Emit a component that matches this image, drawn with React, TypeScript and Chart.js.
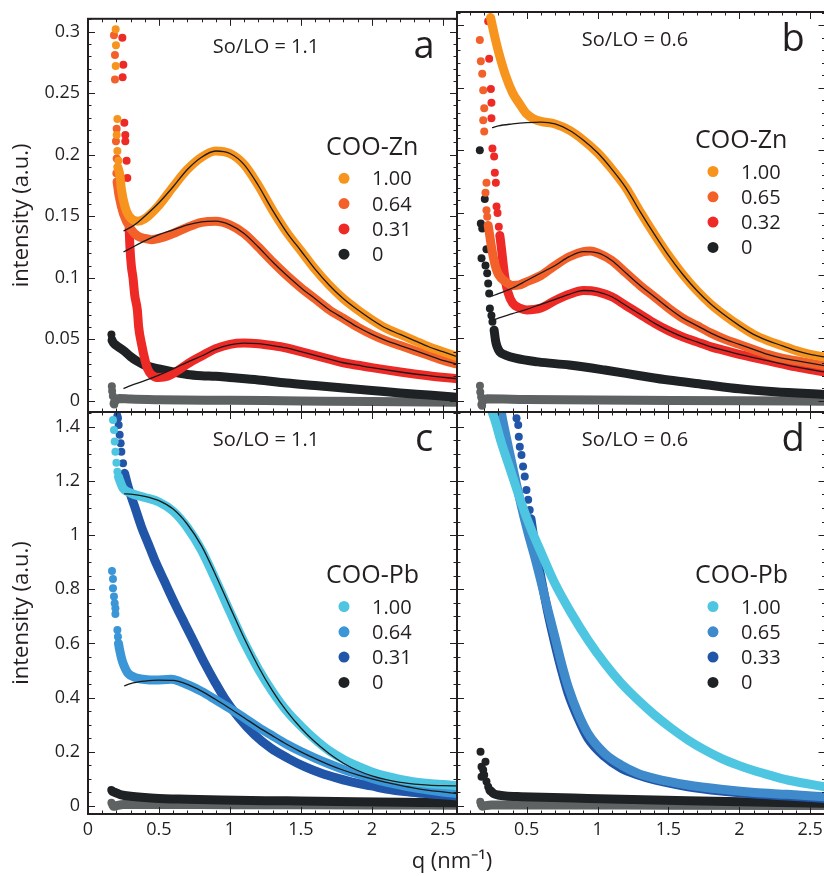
import React, { useEffect, useRef } from "react";
import { Chart, registerables } from "chart.js";

Chart.register(...registerables);

type Pt = [number, number];

// ---------------- tick values & labels ----------------
const X_TICKS = [0, 0.5, 1, 1.5, 2, 2.5];
const X_TICK_LABELS = ["0", "0.5", "1", "1.5", "2", "2.5"];
const X_TICKS_D = [0.5, 1, 1.5, 2, 2.5];
const X_TICK_LABELS_D = ["0.5", "1", "1.5", "2", "2.5"];
const Y_TICKS_ZN = [0, 0.05, 0.1, 0.15, 0.2, 0.25, 0.3];
const Y_TICK_LABELS_ZN = ["0", "0.05", "0.1", "0.15", "0.2", "0.25", "0.3"];
const Y_TICKS_PB = [0, 0.2, 0.4, 0.6, 0.8, 1, 1.2, 1.4];
const Y_TICK_LABELS_PB = ["0", "0.2", "0.4", "0.6", "0.8", "1", "1.2", "1.4"];

const LEGEND_A = ["1.00", "0.64", "0.31", "0"];
const LEGEND_B = ["1.00", "0.65", "0.32", "0"];
const LEGEND_C = ["1.00", "0.64", "0.31", "0"];
const LEGEND_D = ["1.00", "0.65", "0.33", "0"];

// ---------------- panel a : COO-Zn, So/LO = 1.1 ----------------
const A_100_DOTS: Pt[] = [[0.195, 0.302], [0.197, 0.289], [0.195, 0.272], [0.207, 0.229], [0.202, 0.216], [0.207, 0.203], [0.214, 0.195]];
const A_100_BAND: Pt[] = [[0.21, 0.19], [0.225, 0.183], [0.235, 0.172], [0.26, 0.158], [0.29, 0.15], [0.35, 0.146], [0.4, 0.148], [0.5, 0.159], [0.6, 0.174], [0.7, 0.188], [0.8, 0.198], [0.9, 0.203], [1.0, 0.201], [1.1, 0.192], [1.2, 0.175], [1.3, 0.155], [1.4, 0.137], [1.5, 0.122], [1.6, 0.107], [1.7, 0.094], [1.8, 0.083], [1.9, 0.074], [2.0, 0.066], [2.1, 0.059], [2.2, 0.054], [2.3, 0.049], [2.4, 0.044], [2.5, 0.04], [2.6, 0.036]];
const A_100_FIT: Pt[] = [[0.25, 0.138], [0.3, 0.141], [0.35, 0.145], [0.4, 0.15], [0.5, 0.161], [0.6, 0.174], [0.7, 0.188], [0.8, 0.198], [0.9, 0.203], [1.0, 0.201], [1.1, 0.192], [1.2, 0.175], [1.3, 0.155], [1.4, 0.137], [1.5, 0.122], [1.6, 0.107], [1.7, 0.094], [1.8, 0.083], [1.9, 0.074], [2.0, 0.066], [2.1, 0.059], [2.2, 0.054], [2.3, 0.049], [2.4, 0.044], [2.5, 0.04], [2.6, 0.036]];

const A_064_DOTS: Pt[] = [[0.183, 0.297], [0.19, 0.281], [0.19, 0.261], [0.202, 0.221], [0.197, 0.211], [0.202, 0.197], [0.2, 0.185]];
const A_064_BAND: Pt[] = [[0.205, 0.178], [0.22, 0.166], [0.25, 0.152], [0.3, 0.14], [0.35, 0.134], [0.4, 0.132], [0.45, 0.131], [0.5, 0.132], [0.6, 0.136], [0.7, 0.141], [0.8, 0.145], [0.9, 0.146], [1.0, 0.143], [1.1, 0.136], [1.2, 0.125], [1.3, 0.113], [1.4, 0.102], [1.5, 0.092], [1.6, 0.083], [1.7, 0.074], [1.8, 0.067], [1.9, 0.06], [2.0, 0.054], [2.1, 0.049], [2.2, 0.045], [2.3, 0.041], [2.4, 0.037], [2.5, 0.033], [2.6, 0.03]];
const A_064_FIT: Pt[] = [[0.25, 0.121], [0.3, 0.124], [0.4, 0.13], [0.5, 0.135], [0.6, 0.139], [0.7, 0.143], [0.8, 0.1455], [0.9, 0.146], [1.0, 0.143], [1.1, 0.136], [1.2, 0.125], [1.3, 0.113], [1.4, 0.102], [1.5, 0.092], [1.6, 0.083], [1.7, 0.074], [1.8, 0.067], [1.9, 0.06], [2.0, 0.054], [2.1, 0.049], [2.2, 0.045], [2.3, 0.041], [2.4, 0.037], [2.5, 0.033], [2.6, 0.03]];

const A_031_DOTS: Pt[] = [[0.242, 0.295], [0.249, 0.273], [0.244, 0.263], [0.256, 0.226], [0.263, 0.216], [0.263, 0.211], [0.272, 0.195], [0.277, 0.181]];
const A_031_BAND: Pt[] = [[0.29, 0.14], [0.295, 0.126], [0.305, 0.11], [0.317, 0.1], [0.329, 0.086], [0.348, 0.0735], [0.357, 0.06], [0.376, 0.047], [0.4, 0.034], [0.42, 0.026], [0.45, 0.021], [0.5, 0.019], [0.56, 0.02], [0.63, 0.0245], [0.7, 0.03], [0.8, 0.0365], [0.9, 0.0425], [1.0, 0.046], [1.1, 0.047], [1.2, 0.0465], [1.3, 0.045], [1.4, 0.043], [1.5, 0.04], [1.6, 0.037], [1.7, 0.034], [1.8, 0.031], [1.9, 0.029], [2.0, 0.027], [2.2, 0.0235], [2.4, 0.0205], [2.6, 0.018]];
const A_031_FIT: Pt[] = [[0.25, 0.01], [0.3, 0.0125], [0.4, 0.0165], [0.5, 0.021], [0.6, 0.026], [0.7, 0.0315], [0.8, 0.0365], [0.9, 0.042], [1.0, 0.0455], [1.1, 0.047], [1.2, 0.0465], [1.3, 0.045], [1.4, 0.043], [1.5, 0.04], [1.6, 0.037], [1.7, 0.034], [1.8, 0.031], [1.9, 0.029], [2.0, 0.027], [2.2, 0.0235], [2.4, 0.0205], [2.6, 0.018]];

const A_000_DOTS: Pt[] = [[0.165, 0.054], [0.168, 0.05]];
const A_000_BAND: Pt[] = [[0.17, 0.049], [0.18, 0.047], [0.2, 0.045], [0.25, 0.041], [0.3, 0.036], [0.35, 0.032], [0.4, 0.029], [0.5, 0.026], [0.6, 0.0235], [0.7, 0.0215], [0.8, 0.0205], [0.9, 0.02], [1.0, 0.019], [1.2, 0.017], [1.4, 0.0145], [1.6, 0.0125], [1.8, 0.0105], [2.0, 0.0085], [2.2, 0.0065], [2.4, 0.0048], [2.6, 0.003]];

const A_BG_DOTS: Pt[] = [[0.168, 0.012], [0.17, 0.008], [0.175, 0.004], [0.18, -0.002], [0.185, -0.003]];
const A_BG_BAND: Pt[] = [[0.19, 0.0], [0.22, 0.002], [0.3, 0.0015], [0.5, 0.001], [1.0, 0.0005], [1.5, 0.0], [2.0, -0.0005], [2.6, -0.001]];

// ---------------- panel b : COO-Zn, So/LO = 0.6 ----------------
const B_100_BAND: Pt[] = [[0.245, 0.306], [0.26, 0.298], [0.28, 0.288], [0.3, 0.279], [0.35, 0.26], [0.4, 0.246], [0.45, 0.237], [0.5, 0.229], [0.55, 0.225], [0.6, 0.223], [0.7, 0.221], [0.8, 0.216], [0.9, 0.208], [1.0, 0.198], [1.1, 0.185], [1.2, 0.17], [1.3, 0.151], [1.4, 0.133], [1.5, 0.116], [1.6, 0.101], [1.7, 0.088], [1.8, 0.077], [1.9, 0.068], [2.0, 0.06], [2.1, 0.053], [2.2, 0.048], [2.3, 0.044], [2.4, 0.04], [2.5, 0.037], [2.6, 0.035]];
const B_100_FIT: Pt[] = [[0.255, 0.218], [0.3, 0.2195], [0.4, 0.221], [0.5, 0.222], [0.6, 0.2225], [0.7, 0.221], [0.8, 0.216], [0.9, 0.208], [1.0, 0.198], [1.1, 0.185], [1.2, 0.17], [1.3, 0.151], [1.4, 0.133], [1.5, 0.116], [1.6, 0.101], [1.7, 0.088], [1.8, 0.077], [1.9, 0.068], [2.0, 0.06], [2.1, 0.053], [2.2, 0.048], [2.3, 0.044], [2.4, 0.04], [2.5, 0.037], [2.6, 0.035]];

const B_065_DOTS: Pt[] = [[0.169, 0.288], [0.176, 0.271], [0.186, 0.261], [0.193, 0.248], [0.2, 0.2335], [0.193, 0.224], [0.2, 0.215], [0.216, 0.174], [0.209, 0.166], [0.216, 0.152], [0.221, 0.147]];
const B_065_BAND: Pt[] = [[0.228, 0.14], [0.24, 0.131], [0.26, 0.117], [0.28, 0.107], [0.3, 0.101], [0.35, 0.095], [0.4, 0.092], [0.45, 0.0925], [0.5, 0.095], [0.6, 0.1], [0.7, 0.108], [0.8, 0.115], [0.9, 0.119], [0.95, 0.1195], [1.0, 0.118], [1.1, 0.112], [1.2, 0.102], [1.3, 0.092], [1.4, 0.083], [1.5, 0.074], [1.6, 0.066], [1.7, 0.06], [1.8, 0.054], [1.9, 0.049], [2.0, 0.045], [2.1, 0.041], [2.2, 0.037], [2.3, 0.034], [2.4, 0.032], [2.5, 0.03], [2.6, 0.028]];
const B_065_FIT: Pt[] = [[0.255, 0.0836], [0.3, 0.0855], [0.4, 0.09], [0.5, 0.096], [0.6, 0.102], [0.7, 0.108], [0.8, 0.115], [0.9, 0.119], [1.0, 0.118], [1.1, 0.112], [1.2, 0.102], [1.3, 0.092], [1.4, 0.083], [1.5, 0.074], [1.6, 0.066], [1.7, 0.06], [1.8, 0.054], [1.9, 0.049], [2.0, 0.045], [2.1, 0.041], [2.2, 0.037], [2.3, 0.034], [2.4, 0.032], [2.5, 0.03], [2.6, 0.028]];

const B_032_DOTS: Pt[] = [[0.228, 0.303], [0.235, 0.273], [0.247, 0.249], [0.251, 0.238], [0.251, 0.2255], [0.258, 0.2015], [0.27, 0.195], [0.275, 0.182], [0.282, 0.174], [0.287, 0.155], [0.294, 0.15], [0.303, 0.139]];
const B_032_BAND: Pt[] = [[0.31, 0.132], [0.317, 0.126], [0.333, 0.11], [0.345, 0.099], [0.369, 0.086], [0.4, 0.078], [0.45, 0.074], [0.5, 0.0725], [0.6, 0.074], [0.7, 0.08], [0.8, 0.085], [0.9, 0.088], [1.0, 0.087], [1.1, 0.083], [1.2, 0.076], [1.3, 0.069], [1.4, 0.062], [1.5, 0.056], [1.6, 0.051], [1.7, 0.047], [1.8, 0.043], [1.9, 0.04], [2.0, 0.037], [2.2, 0.032], [2.4, 0.027], [2.6, 0.023]];
const B_032_FIT: Pt[] = [[0.256, 0.064], [0.3, 0.066], [0.4, 0.0695], [0.5, 0.073], [0.6, 0.077], [0.7, 0.081], [0.8, 0.085], [0.9, 0.088], [1.0, 0.087], [1.1, 0.083], [1.2, 0.076], [1.3, 0.069], [1.4, 0.062], [1.5, 0.056], [1.6, 0.051], [1.7, 0.047], [1.8, 0.043], [1.9, 0.04], [2.0, 0.037], [2.2, 0.032], [2.4, 0.027], [2.6, 0.023]];

const B_000_DOTS: Pt[] = [[0.169, 0.2], [0.204, 0.161], [0.176, 0.1416], [0.186, 0.1376], [0.216, 0.121], [0.181, 0.1137], [0.209, 0.108], [0.221, 0.1017], [0.228, 0.0937], [0.235, 0.0857], [0.24, 0.0737], [0.251, 0.068], [0.258, 0.063]];
const B_000_BAND: Pt[] = [[0.27, 0.0564], [0.28, 0.048], [0.29, 0.0435], [0.31, 0.039], [0.35, 0.0365], [0.42, 0.034], [0.58, 0.031], [0.8, 0.0285], [1.05, 0.0245], [1.3, 0.02], [1.5, 0.0165], [1.75, 0.013], [2.0, 0.0095], [2.25, 0.0072], [2.6, 0.005]];

const B_BG_DOTS: Pt[] = [[0.17, 0.012], [0.172, 0.007], [0.178, 0.003], [0.18, -0.003], [0.185, -0.004]];
const B_BG_BAND: Pt[] = [[0.19, 0.0], [0.22, 0.0015], [0.5, 0.001], [1.0, 0.0005], [2.0, 0.0], [2.6, -0.0005]];

// ---------------- panel c : COO-Pb, So/LO = 1.1 ----------------
const C_100_DOTS: Pt[] = [[0.176, 1.425], [0.183, 1.388], [0.188, 1.345], [0.193, 1.308], [0.2, 1.267], [0.207, 1.234]];
const C_100_BAND: Pt[] = [[0.215, 1.215], [0.223, 1.203], [0.247, 1.173], [0.3, 1.155], [0.4, 1.139], [0.5, 1.122], [0.6, 1.088], [0.7, 1.028], [0.8, 0.944], [0.9, 0.834], [1.0, 0.717], [1.1, 0.604], [1.2, 0.506], [1.3, 0.422], [1.4, 0.351], [1.5, 0.295], [1.6, 0.246], [1.7, 0.204], [1.8, 0.172], [1.9, 0.147], [2.0, 0.126], [2.1, 0.11], [2.2, 0.098], [2.3, 0.089], [2.4, 0.083], [2.5, 0.079], [2.6, 0.076]];
const C_100_FIT: Pt[] = [[0.255, 1.152], [0.3, 1.151], [0.4, 1.143], [0.5, 1.127], [0.6, 1.096], [0.7, 1.04], [0.8, 0.96], [0.9, 0.852], [1.0, 0.735], [1.1, 0.62], [1.2, 0.515], [1.3, 0.425], [1.4, 0.35], [1.5, 0.288], [1.6, 0.236], [1.7, 0.193], [1.8, 0.158], [1.9, 0.131], [2.0, 0.111], [2.1, 0.097], [2.2, 0.087], [2.3, 0.081], [2.4, 0.077], [2.5, 0.075], [2.6, 0.074]];

const C_064_DOTS: Pt[] = [[0.169, 0.867], [0.176, 0.838], [0.176, 0.804], [0.183, 0.773], [0.188, 0.748], [0.193, 0.73], [0.193, 0.709], [0.207, 0.65], [0.211, 0.625]];
const C_064_BAND: Pt[] = [[0.215, 0.6], [0.223, 0.576], [0.235, 0.548], [0.247, 0.527], [0.265, 0.505], [0.282, 0.49], [0.32, 0.477], [0.352, 0.471], [0.4, 0.467], [0.47, 0.465], [0.587, 0.4676], [0.65, 0.459], [0.705, 0.447], [0.8, 0.423], [0.9, 0.392], [1.0, 0.36], [1.1, 0.326], [1.2, 0.291], [1.3, 0.259], [1.4, 0.228], [1.5, 0.201], [1.6, 0.177], [1.7, 0.155], [1.8, 0.135], [1.9, 0.118], [2.0, 0.102], [2.1, 0.088], [2.2, 0.077], [2.3, 0.067], [2.4, 0.059], [2.5, 0.052], [2.6, 0.046]];
const C_064_FIT: Pt[] = [[0.255, 0.443], [0.3, 0.452], [0.4, 0.461], [0.5, 0.465], [0.6, 0.464], [0.7, 0.449], [0.8, 0.424], [0.9, 0.393], [1.0, 0.36], [1.1, 0.326], [1.2, 0.291], [1.3, 0.259], [1.4, 0.228], [1.5, 0.2], [1.6, 0.175], [1.7, 0.152], [1.8, 0.132], [1.9, 0.115], [2.0, 0.1], [2.1, 0.087], [2.2, 0.076], [2.3, 0.066], [2.4, 0.058], [2.5, 0.052], [2.6, 0.046]];

const C_031_DOTS: Pt[] = [[0.207, 1.44], [0.211, 1.431], [0.216, 1.406], [0.223, 1.37], [0.23, 1.339], [0.235, 1.308], [0.247, 1.265]];
const C_031_BAND: Pt[] = [[0.258, 1.228], [0.282, 1.179], [0.329, 1.105], [0.376, 1.031], [0.423, 0.97], [0.47, 0.908], [0.54, 0.828], [0.611, 0.748], [0.681, 0.674], [0.752, 0.6], [0.822, 0.527], [0.893, 0.459], [0.963, 0.397], [1.057, 0.33], [1.175, 0.262], [1.29, 0.213], [1.41, 0.176], [1.527, 0.145], [1.644, 0.1206], [1.762, 0.102], [1.879, 0.086], [1.997, 0.074], [2.114, 0.0615], [2.23, 0.053], [2.35, 0.047], [2.6, 0.037]];

const C_000_DOTS: Pt[] = [[0.164, 0.059], [0.17, 0.055]];
const C_000_BAND: Pt[] = [[0.175, 0.053], [0.2, 0.048], [0.235, 0.041], [0.3, 0.036], [0.47, 0.029], [0.7, 0.025], [0.94, 0.022], [1.4, 0.019], [1.88, 0.016], [2.6, 0.012]];
const C_BG_DOTS: Pt[] = [[0.165, 0.012], [0.172, 0.003], [0.18, -0.003]];
const C_BG_BAND: Pt[] = [[0.19, 0.0], [0.25, 0.006], [0.5, 0.006], [1.0, 0.005], [2.0, 0.004], [2.6, 0.003]];

// ---------------- panel d : COO-Pb, So/LO = 0.6 ----------------
const D_100_BAND: Pt[] = [[0.24, 1.475], [0.251, 1.46], [0.275, 1.425], [0.322, 1.339], [0.369, 1.265], [0.416, 1.191], [0.463, 1.117], [0.533, 1.019], [0.604, 0.933], [0.698, 0.822], [0.815, 0.711], [0.932, 0.613], [1.05, 0.527], [1.167, 0.453], [1.285, 0.391], [1.402, 0.336], [1.52, 0.287], [1.637, 0.244], [1.755, 0.207], [1.872, 0.176], [1.99, 0.151], [2.107, 0.13], [2.225, 0.112], [2.34, 0.096], [2.46, 0.084], [2.6, 0.071]];
const D_065_BAND: Pt[] = [[0.315, 1.48], [0.322, 1.45], [0.345, 1.388], [0.38, 1.302], [0.416, 1.216], [0.463, 1.105], [0.51, 1.006], [0.556, 0.92], [0.604, 0.822], [0.65, 0.7235], [0.698, 0.625], [0.745, 0.527], [0.792, 0.4405], [0.862, 0.342], [0.932, 0.268], [1.05, 0.194], [1.167, 0.151], [1.285, 0.1206], [1.402, 0.102], [1.637, 0.0775], [1.872, 0.0615], [2.107, 0.05], [2.34, 0.043], [2.6, 0.034]];
const D_033_DOTS: Pt[] = [[0.428, 1.431], [0.44, 1.406], [0.444, 1.363], [0.451, 1.326], [0.463, 1.296], [0.474, 1.253], [0.486, 1.216], [0.498, 1.166], [0.51, 1.13], [0.521, 1.093]];
const D_033_BAND: Pt[] = [[0.53, 1.06], [0.545, 1.006], [0.568, 0.933], [0.604, 0.834], [0.65, 0.711], [0.698, 0.6], [0.745, 0.502], [0.792, 0.416], [0.862, 0.324], [0.932, 0.25], [1.05, 0.182], [1.167, 0.139], [1.285, 0.114], [1.402, 0.096], [1.637, 0.071], [1.872, 0.055], [2.107, 0.044], [2.34, 0.037], [2.6, 0.028]];
const D_000_DOTS: Pt[] = [[0.174, 0.2006], [0.209, 0.1637], [0.181, 0.145], [0.193, 0.133], [0.181, 0.108], [0.2, 0.114], [0.216, 0.09], [0.228, 0.0714]];
const D_000_BAND: Pt[] = [[0.24, 0.058], [0.251, 0.053], [0.27, 0.045], [0.298, 0.0406], [0.35, 0.037], [0.463, 0.0345], [0.932, 0.028], [1.637, 0.0197], [2.6, 0.0098]];
const D_BG_DOTS: Pt[] = [[0.172, 0.016], [0.176, 0.008], [0.18, 0.0037], [0.186, -0.002]];
const D_BG_BAND: Pt[] = [[0.19, 0.0], [0.25, 0.004], [0.5, 0.004], [1.5, 0.003], [2.6, 0.002]];

// ---------------- styles ----------------
const CW = 830;
const CH = 876;
const FONT = '"Open Sans", "Liberation Sans", sans-serif';
const TEXT = "#231f20";
const FIT_COLOR = "#1a1a1a";
const ORANGE = "#f7941d";
const ORANGE_RED = "#f2612a";
const RED = "#ed2a26";
const BLACK = "#1f2224";
const GRAY = "#5f6263";
const CYAN = "#4ec6e1";
const MID_BLUE_C = "#3a96d6";
const MID_BLUE_D = "#3f8acb";
const DARK_BLUE = "#2055a7";

interface Series { color: string; band: Pt[]; dots?: Pt[]; fit?: Pt[] }
interface Panel {
  key: string; letter: string; ratio: string; legendTitle: string; legendLabels: string[]; legendColors: string[];
  series: Series[];
  box: { l: number; t: number; r: number; b: number };
  xMin: number; xMax: number; yMin: number; yMax: number; yMinor: number; yMajor: number;
  yTicks?: number[]; yLabels?: string[]; xTicks?: number[]; xLabels?: string[]; xTitle?: boolean;
}

const ZN_Y = { yMin: -0.009, yMax: 0.3104, yMinor: 0.01, yMajor: 0.05 };
const PB_Y = { yMin: -0.0295, yMax: 1.4543, yMinor: 0.05, yMajor: 0.2 };

const PANELS: Panel[] = [
  {
    key: "a", letter: "a", ratio: "So/LO = 1.1", legendTitle: "COO-Zn", legendLabels: LEGEND_A,
    legendColors: [ORANGE, ORANGE_RED, RED, BLACK],
    series: [
      { color: ORANGE, band: A_100_BAND, dots: A_100_DOTS, fit: A_100_FIT },
      { color: ORANGE_RED, band: A_064_BAND, dots: A_064_DOTS, fit: A_064_FIT },
      { color: RED, band: A_031_BAND, dots: A_031_DOTS, fit: A_031_FIT },
      { color: BLACK, band: A_000_BAND, dots: A_000_DOTS },
      { color: GRAY, band: A_BG_BAND, dots: A_BG_DOTS },
    ],
    box: { l: 88, t: 12, r: 457, b: 412 }, xMin: 0, xMax: 2.6, ...ZN_Y,
    yTicks: Y_TICKS_ZN, yLabels: Y_TICK_LABELS_ZN,
  },
  {
    key: "b", letter: "b", ratio: "So/LO = 0.6", legendTitle: "COO-Zn", legendLabels: LEGEND_B,
    legendColors: [ORANGE, ORANGE_RED, RED, BLACK],
    series: [
      { color: ORANGE, band: B_100_BAND, fit: B_100_FIT },
      { color: ORANGE_RED, band: B_065_BAND, dots: B_065_DOTS, fit: B_065_FIT },
      { color: RED, band: B_032_BAND, dots: B_032_DOTS, fit: B_032_FIT },
      { color: BLACK, band: B_000_BAND, dots: B_000_DOTS },
      { color: GRAY, band: B_BG_BAND, dots: B_BG_DOTS },
    ],
    box: { l: 457, t: 12, r: 826, b: 412 }, xMin: 0.008, xMax: 2.608, ...ZN_Y,
  },
  {
    key: "c", letter: "c", ratio: "So/LO = 1.1", legendTitle: "COO-Pb", legendLabels: LEGEND_C,
    legendColors: [CYAN, MID_BLUE_C, DARK_BLUE, BLACK],
    series: [
      { color: CYAN, band: C_100_BAND, dots: C_100_DOTS, fit: C_100_FIT },
      { color: MID_BLUE_C, band: C_064_BAND, dots: C_064_DOTS, fit: C_064_FIT },
      { color: DARK_BLUE, band: C_031_BAND, dots: C_031_DOTS },
      { color: BLACK, band: C_000_BAND, dots: C_000_DOTS },
      { color: GRAY, band: C_BG_BAND, dots: C_BG_DOTS },
    ],
    box: { l: 88, t: 412, r: 457, b: 814 }, xMin: 0, xMax: 2.6, ...PB_Y,
    yTicks: Y_TICKS_PB, yLabels: Y_TICK_LABELS_PB, xTicks: X_TICKS, xLabels: X_TICK_LABELS, xTitle: true,
  },
  {
    key: "d", letter: "d", ratio: "So/LO = 0.6", legendTitle: "COO-Pb", legendLabels: LEGEND_D,
    legendColors: [CYAN, MID_BLUE_D, DARK_BLUE, BLACK],
    series: [
      { color: CYAN, band: D_100_BAND },
      { color: MID_BLUE_D, band: D_065_BAND },
      { color: DARK_BLUE, band: D_033_BAND, dots: D_033_DOTS },
      { color: BLACK, band: D_000_BAND, dots: D_000_DOTS },
      { color: GRAY, band: D_BG_BAND, dots: D_BG_DOTS },
    ],
    box: { l: 457, t: 412, r: 826, b: 814 }, xMin: 0.008, xMax: 2.608, ...PB_Y,
    xTicks: X_TICKS_D, xLabels: X_TICK_LABELS_D,
  },
];

const toXY = (pts: Pt[]) => pts.map(([x, y]) => ({ x, y }));

function decorPlugin(p: Panel) {
  return {
    id: "decor" + p.key,
    afterDraw(chart: any) {
      const { ctx } = chart;
      const { left, top, right, bottom } = chart.chartArea;
      const xs = chart.scales.x;
      const ys = chart.scales.y;
      ctx.save();
      ctx.strokeStyle = TEXT;
      ctx.lineWidth = 1;
      ctx.beginPath();
      for (let k = Math.ceil(p.xMin / 0.1 - 1e-6); k * 0.1 <= p.xMax + 1e-6; k++) {
        const x = Math.round(xs.getPixelForValue(k * 0.1)) + 0.5;
        const len = k % 5 === 0 ? 7 : 3.5;
        ctx.moveTo(x, bottom); ctx.lineTo(x, bottom - len);
        ctx.moveTo(x, top); ctx.lineTo(x, top + len);
      }
      const ratio = Math.round(p.yMajor / p.yMinor);
      for (let k = Math.ceil(p.yMin / p.yMinor - 1e-6); k * p.yMinor <= p.yMax + 1e-9; k++) {
        const y = Math.round(ys.getPixelForValue(k * p.yMinor)) + 0.5;
        const len = k % ratio === 0 ? 7 : 3.5;
        ctx.moveTo(left, y); ctx.lineTo(left + len, y);
        ctx.moveTo(right, y); ctx.lineTo(right - len, y);
      }
      ctx.stroke();
      ctx.lineWidth = 2;
      ctx.strokeRect(left, top, right - left, bottom - top);

      ctx.fillStyle = TEXT;
      ctx.textBaseline = "alphabetic";
      ctx.textAlign = "center";
      ctx.font = `20px ${FONT}`;
      ctx.fillText(p.ratio, left + 178, top + 34);
      ctx.font = `38px ${FONT}`;
      ctx.fillText(p.letter, left + 336, top + 39);

      const isZn = p.legendTitle === "COO-Zn";
      const ty = top + (isZn ? 136 : 171);
      ctx.textAlign = "left";
      ctx.font = `25px ${FONT}`;
      ctx.fillText(p.legendTitle, left + 238, ty);
      ctx.font = `20px ${FONT}`;
      p.legendLabels.forEach((lab, i) => {
        const ry = ty + 23.5 + i * 25.3;
        ctx.beginPath();
        ctx.fillStyle = p.legendColors[i];
        ctx.arc(left + 256, ry, 5.5, 0, Math.PI * 2);
        ctx.fill();
        ctx.fillStyle = TEXT;
        ctx.fillText(lab, left + 284, ry + 7);
      });

      if (p.xTitle) {
        ctx.textAlign = "center";
        ctx.font = `22px ${FONT}`;
        ctx.fillText("q (nm\u207B\u00B9)", 452, 868);
      }
      ctx.restore();
    },
  };
}

function buildConfig(p: Panel): any {
  const datasets: any[] = [];
  p.series.forEach((s, i) => {
    datasets.push({
      data: toXY(s.band), borderColor: s.color, backgroundColor: s.color, borderWidth: 9,
      pointRadius: 0, cubicInterpolationMode: "monotone", borderCapStyle: "round", borderJoinStyle: "round",
      order: i + 1, clip: 0, fill: false,
    });
    if (s.dots) {
      datasets.push({
        data: toXY(s.dots), showLine: false, pointRadius: 4, pointBackgroundColor: s.color,
        pointBorderWidth: 0, borderColor: s.color, order: i + 1, clip: 0,
      });
    }
    if (s.fit) {
      datasets.push({
        data: toXY(s.fit), borderColor: FIT_COLOR, borderWidth: 1.3, pointRadius: 0,
        cubicInterpolationMode: "monotone", order: 0, clip: 0, fill: false,
      });
    }
  });
  const showX = !!p.xTicks;
  const showY = !!p.yTicks;
  return {
    type: "line",
    data: { datasets },
    options: {
      animation: false,
      responsive: false,
      devicePixelRatio: 1,
      events: [],
      layout: {
        padding: {
          left: showY ? 0 : p.box.l,
          right: CW - p.box.r,
          top: p.box.t,
          bottom: showX ? 0 : CH - p.box.b,
        },
      },
      plugins: { legend: { display: false }, tooltip: { enabled: false } },
      scales: {
        x: {
          type: "linear", min: p.xMin, max: p.xMax, display: showX,
          grid: { display: false, drawTicks: false }, border: { display: false },
          afterBuildTicks: (s: any) => { if (p.xTicks) s.ticks = p.xTicks.map((v) => ({ value: v })); },
          afterFit: (s: any) => { if (showX) s.height = CH - p.box.b; },
          ticks: {
            autoSkip: false, maxRotation: 0, padding: 5, color: TEXT,
            font: { size: 18, family: FONT },
            callback: (_v: any, i: number) => (p.xLabels ? p.xLabels[i] : ""),
          },
        },
        y: {
          type: "linear", min: p.yMin, max: p.yMax, display: showY,
          grid: { display: false, drawTicks: false }, border: { display: false },
          afterBuildTicks: (s: any) => { if (p.yTicks) s.ticks = p.yTicks.map((v) => ({ value: v })); },
          afterFit: (s: any) => { if (showY) s.width = p.box.l; },
          ticks: {
            autoSkip: false, padding: 8, color: TEXT,
            font: { size: 18, family: FONT },
            callback: (_v: any, i: number) => (p.yLabels ? p.yLabels[i] : ""),
          },
          title: {
            display: showY, text: "intensity (a.u.)", color: TEXT,
            font: { size: 22, family: FONT }, padding: { top: 9, bottom: 0 },
          },
        },
      },
    },
    plugins: [decorPlugin(p)],
  };
}

function PanelChart({ panel }: { panel: Panel }) {
  const ref = useRef<HTMLCanvasElement>(null);
  useEffect(() => {
    if (!ref.current) return;
    const chart = new Chart(ref.current, buildConfig(panel));
    const fonts: any = (document as any).fonts;
    if (fonts && fonts.load) {
      fonts.load(`18px "Open Sans"`).then(() => chart.update()).catch(() => {});
    }
    return () => chart.destroy();
  }, [panel]);
  return (
    <canvas
      ref={ref}
      width={CW}
      height={CH}
      style={{ position: "absolute", left: 0, top: 0, width: CW, height: CH }}
    />
  );
}

export default function App() {
  return (
    <div
      style={{
        position: "absolute", left: 0, top: 0, width: 824, height: 876,
        overflow: "hidden", background: "#ffffff",
      }}
    >
      {PANELS.map((p) => (
        <PanelChart key={p.key} panel={p} />
      ))}
    </div>
  );
}
